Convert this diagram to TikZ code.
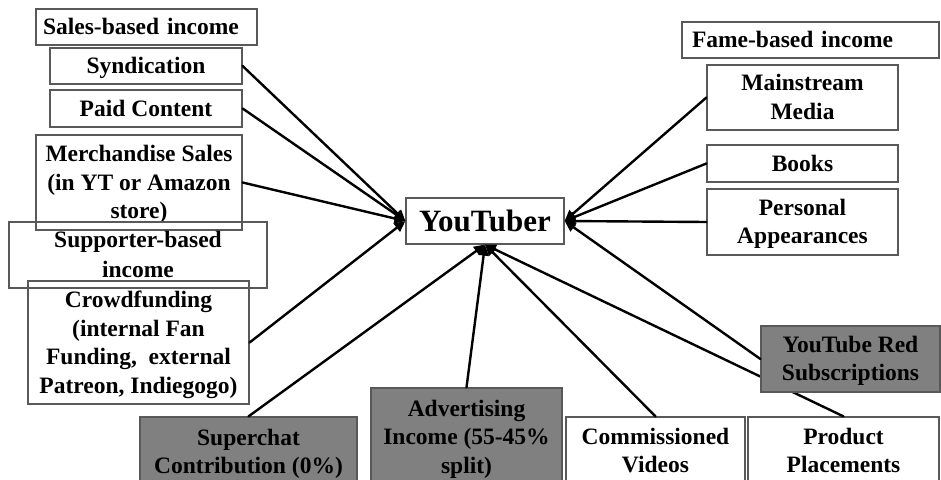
\documentclass[tikz,border=0pt]{standalone}
\usepackage{fontspec}
\setmainfont{Liberation Serif}
\usetikzlibrary{arrows.meta,backgrounds}
\begin{document}
\begin{tikzpicture}[x=1pt,y=-1pt,
  box/.style={draw=black!65, line width=1.2pt, rectangle, inner sep=0pt, align=center, text depth=1pt,
    font=\bfseries\fontsize{23.5}{28.5}\selectfont},
  graybox/.style={box, fill=black!50},
  conn/.style={line width=2.4pt, line cap=round},
  arr/.style={conn, -{Triangle[length=11pt,width=10pt]}}]
\clip (0,0) rectangle (941,479);
\fill[white] (0,0) rectangle (941,479);
% centre
\node[box, minimum width=158pt, minimum height=46pt, font=\bfseries\fontsize{31}{36}\selectfont] (yt) at (485,221) {YouTuber};
% left column
\node[box, minimum width=221pt, minimum height=36pt, text width=207pt, inner xsep=7pt, align=left] (sales) at (146.5,27) {Sales-based income};
\node[box, minimum width=192pt, minimum height=36pt] (synd) at (146,66) {Syndication};
\node[box, minimum width=192pt, minimum height=37pt] (paid) at (146,108.5) {Paid Content};
\node[box, minimum width=206pt, minimum height=95pt] (merch) at (139,182.5) {Merchandise Sales\\(in YT or Amazon\\store)};
\node[box, minimum width=258pt, minimum height=66pt, font=\bfseries\fontsize{23.5}{30}\selectfont] (supp) at (138,255) {Supporter-based\\income};
\node[box, minimum width=221pt, minimum height=123pt] (crowd) at (138.5,342.5) {Crowdfunding\\(internal Fan\\Funding,\ \ external\\Patreon, Indiegogo)};
% right column
\node[box, minimum width=257pt, minimum height=36pt, text width=237pt, inner xsep=10pt, align=left] (fame) at (810.5,40) {Fame-based income};
\node[box, minimum width=191pt, minimum height=65pt] (mainm) at (802.5,97.5) {Mainstream\\Media};
\node[box, minimum width=191pt, minimum height=37pt] (books) at (802.5,163.5) {Books};
\node[box, minimum width=191pt, minimum height=66pt] (pers) at (802.5,222) {Personal\\Appearances};
% bottom row
\node[box, minimum width=179pt, minimum height=68pt] (comm) at (655.5,451) {Commissioned\\Videos};
\node[box, minimum width=191pt, minimum height=68pt] (prod) at (843.5,451) {Product\\Placements};
% connectors
\draw[arr] (synd.east) -- (yt.west);
\draw[arr] (paid.east) -- (yt.west);
\draw[arr] (merch.east) -- (yt.west);
\draw[arr] (crowd.east) -- (yt.west);
\draw[arr] (mainm.west) -- (yt.east);
\draw[arr] (books.west) -- (yt.east);
\draw[arr] (pers.west) -- (yt.east);
\draw[arr] (prod.north) -- (yt.south);
\draw[arr] (comm.north) -- (yt.south);
% gray boxes drawn over the lines
\node[graybox, minimum width=179pt, minimum height=66pt] (red) at (850.5,359) {YouTube Red\\Subscriptions};
\node[graybox, minimum width=217pt, minimum height=70pt] (superchat) at (248.5,452) {Superchat\\Contribution (0\%)};
\node[graybox, minimum width=191pt, minimum height=98pt] (adv) at (466.5,437) {Advertising\\Income (55-45\%\\split)};
\draw[arr] (red.west) -- (yt.east);
\draw[arr] (superchat.north) -- (yt.south);
\draw[arr] (adv.north) -- (yt.south);
\end{tikzpicture}
\end{document}
